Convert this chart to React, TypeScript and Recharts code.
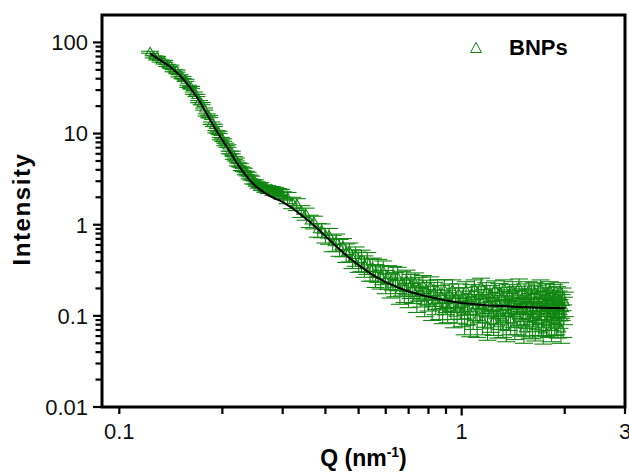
import { ScatterChart, Scatter, XAxis, YAxis, ErrorBar, Legend, Label, ReferenceArea } from "recharts";

const GREEN = "#118611";
const FONT = "'Liberation Sans', Arial, Helvetica, sans-serif";

// low-q part (Guinier region + shoulder)
const lowQ = [
  0.123, 0.126, 0.129, 0.132, 0.135, 0.138, 0.141, 0.144, 0.147, 0.15,
  0.153, 0.156, 0.159, 0.162, 0.165, 0.168, 0.171, 0.174, 0.177, 0.18,
  0.183, 0.186, 0.189, 0.192, 0.195, 0.198, 0.201, 0.204, 0.207, 0.21,
  0.213, 0.216, 0.219, 0.222, 0.225, 0.228, 0.231, 0.234, 0.237, 0.24,
  0.243, 0.246, 0.249, 0.252, 0.255, 0.258, 0.261, 0.264, 0.267, 0.27,
  0.273, 0.276, 0.279, 0.282, 0.285, 0.288, 0.291, 0.294, 0.297, 0.3,
];
const lowIntensity = [
  78, 69.5, 68.5, 62.5, 62, 56, 55, 49, 48.5, 43,
  41.3, 38.4, 33, 32, 27.8, 26.2, 22.4, 21.3, 18.6, 16,
  15.4, 13, 12.3, 10.5, 10.3, 8.8, 8.5, 7.6, 7.3, 6.2,
  6.2, 5.4, 5.2, 4.6, 4.5, 4.1, 4.0, 3.7, 3.6, 3.35,
  3.25, 2.95, 2.95, 2.8, 2.67, 2.73, 2.54, 2.55, 2.44, 2.5,
  2.37, 2.44, 2.42, 2.28, 2.37, 2.25, 2.29, 2.21, 2.24, 2.1,
];
const lowError = [
  2.0, 1.8, 1.8, 1.6, 1.6, 1.5, 1.4, 1.3, 1.3, 1.2,
  1.1, 1.0, 0.9, 0.9, 0.8, 0.7, 0.6, 0.6, 0.5, 0.45,
  0.45, 0.4, 0.36, 0.32, 0.31, 0.27, 0.26, 0.24, 0.23, 0.2,
  0.21, 0.19, 0.19, 0.18, 0.18, 0.17, 0.17, 0.16, 0.16, 0.16,
  0.16, 0.15, 0.16, 0.16, 0.15, 0.17, 0.16, 0.17, 0.17, 0.18,
  0.17, 0.19, 0.19, 0.18, 0.2, 0.19, 0.2, 0.2, 0.21, 0.2,
];

// mid-q part
const midQ = [
  0.31, 0.32, 0.33, 0.34, 0.35, 0.36, 0.37, 0.38, 0.39, 0.4,
  0.41, 0.42, 0.43, 0.44, 0.45, 0.46, 0.47, 0.48, 0.49, 0.5,
  0.51, 0.52, 0.53, 0.54, 0.55, 0.56, 0.57, 0.58, 0.59, 0.6,
  0.61, 0.62, 0.63, 0.64, 0.65, 0.66, 0.67, 0.68, 0.69, 0.7,
  0.71, 0.72, 0.73, 0.74, 0.75, 0.76, 0.77, 0.78, 0.79, 0.8,
  0.81, 0.82, 0.83, 0.84, 0.85, 0.86, 0.87, 0.88, 0.89, 0.9,
  0.91, 0.92, 0.93, 0.94, 0.95, 0.96, 0.97, 0.98, 0.99, 1.0,
];
const midIntensity = [
  1.98, 1.75, 1.68, 1.41, 1.32, 1.1, 1.07, 0.88, 0.87, 0.77,
  0.76, 0.635, 0.65, 0.57, 0.575, 0.5, 0.51, 0.43, 0.46, 0.4,
  0.415, 0.36, 0.39, 0.33, 0.335, 0.285, 0.325, 0.275, 0.31, 0.245,
  0.275, 0.222, 0.27, 0.23, 0.265, 0.19, 0.235, 0.2, 0.245, 0.175,
  0.22, 0.195, 0.23, 0.157, 0.205, 0.178, 0.215, 0.141, 0.19, 0.162,
  0.208, 0.127, 0.18, 0.148, 0.193, 0.13, 0.166, 0.117, 0.193, 0.147,
  0.12, 0.174, 0.13, 0.193, 0.107, 0.155, 0.119, 0.174, 0.131, 0.11,
];
const midError = [
  0.28, 0.25, 0.25, 0.21, 0.2, 0.17, 0.17, 0.15, 0.15, 0.14,
  0.15, 0.13, 0.14, 0.12, 0.13, 0.115, 0.12, 0.1, 0.11, 0.1,
  0.11, 0.095, 0.105, 0.09, 0.095, 0.08, 0.092, 0.078, 0.09, 0.07,
  0.08, 0.065, 0.078, 0.068, 0.076, 0.056, 0.07, 0.06, 0.072, 0.052,
  0.065, 0.058, 0.066, 0.048, 0.06, 0.053, 0.062, 0.043, 0.056, 0.049,
  0.06, 0.038, 0.053, 0.045, 0.056, 0.039, 0.05, 0.035, 0.056, 0.044,
  0.036, 0.05, 0.039, 0.055, 0.033, 0.046, 0.036, 0.05, 0.039, 0.034,
];

// high-q part (flat background)
const highQ = [
  1.01, 1.02, 1.03, 1.04, 1.05, 1.06, 1.07, 1.08, 1.09, 1.1,
  1.11, 1.12, 1.13, 1.14, 1.15, 1.16, 1.17, 1.18, 1.19, 1.2,
  1.21, 1.22, 1.23, 1.24, 1.25, 1.26, 1.27, 1.28, 1.29, 1.3,
  1.31, 1.32, 1.33, 1.34, 1.35, 1.36, 1.37, 1.38, 1.39, 1.4,
  1.41, 1.42, 1.43, 1.44, 1.45, 1.46, 1.47, 1.48, 1.49, 1.5,
  1.51, 1.52, 1.53, 1.54, 1.55, 1.56, 1.57, 1.58, 1.59, 1.6,
  1.61, 1.62, 1.63, 1.64, 1.65, 1.66, 1.67, 1.68, 1.69, 1.7,
  1.71, 1.72, 1.73, 1.74, 1.75, 1.76, 1.77, 1.78, 1.79, 1.8,
  1.81, 1.82, 1.83, 1.84, 1.85, 1.86, 1.87, 1.88, 1.89, 1.9,
  1.91, 1.92, 1.93, 1.94, 1.95, 1.96, 1.97, 1.98, 1.99, 2.0,
];
const highIntensity = [
  0.16, 0.1, 0.19, 0.12, 0.145, 0.085, 0.175, 0.11, 0.2, 0.13,
  0.095, 0.165, 0.125, 0.21, 0.09, 0.15, 0.115, 0.185, 0.078, 0.14,
  0.17, 0.105, 0.155, 0.088, 0.195, 0.12, 0.135, 0.082, 0.18, 0.11,
  0.16, 0.095, 0.2, 0.125, 0.075, 0.15, 0.108, 0.175, 0.09, 0.14,
  0.19, 0.115, 0.08, 0.165, 0.1, 0.145, 0.205, 0.118, 0.086, 0.155,
  0.128, 0.072, 0.178, 0.098, 0.15, 0.112, 0.19, 0.082, 0.135, 0.168,
  0.092, 0.12, 0.185, 0.076, 0.145, 0.105, 0.172, 0.088, 0.13, 0.2,
  0.098, 0.155, 0.07, 0.14, 0.115, 0.18, 0.085, 0.125, 0.162, 0.095,
  0.19, 0.108, 0.075, 0.148, 0.12, 0.175, 0.088, 0.138, 0.1, 0.165,
  0.082, 0.145, 0.112, 0.185, 0.072, 0.13, 0.158, 0.095, 0.12, 0.14,
];
const highError = [
  0.044, 0.038, 0.047, 0.04, 0.042, 0.026, 0.045, 0.039, 0.048, 0.041,
  0.037, 0.044, 0.041, 0.049, 0.028, 0.043, 0.04, 0.046, 0.024, 0.042,
  0.045, 0.039, 0.043, 0.027, 0.047, 0.04, 0.042, 0.025, 0.046, 0.039,
  0.044, 0.037, 0.048, 0.041, 0.023, 0.043, 0.039, 0.045, 0.028, 0.042,
  0.047, 0.04, 0.025, 0.044, 0.038, 0.042, 0.049, 0.04, 0.026, 0.043,
  0.041, 0.022, 0.046, 0.038, 0.043, 0.039, 0.047, 0.025, 0.041, 0.044,
  0.036, 0.04, 0.046, 0.023, 0.042, 0.038, 0.045, 0.027, 0.041, 0.048,
  0.038, 0.043, 0.021, 0.042, 0.04, 0.046, 0.026, 0.041, 0.044, 0.037,
  0.047, 0.039, 0.023, 0.043, 0.04, 0.045, 0.027, 0.042, 0.038, 0.044,
  0.025, 0.042, 0.039, 0.046, 0.022, 0.041, 0.044, 0.037, 0.04, 0.042,
];

// fitted curve
const fitQ = [
  0.123, 0.13, 0.14, 0.15, 0.16, 0.17, 0.18, 0.19, 0.2, 0.21, 0.22, 0.23,
  0.24, 0.25, 0.265, 0.28, 0.3, 0.32, 0.34, 0.36, 0.38, 0.4, 0.43, 0.46,
  0.5, 0.55, 0.6, 0.65, 0.7, 0.8, 0.9, 1.0, 1.2, 1.4, 1.7, 2.0,
];
const fitIntensity = [
  76, 66, 55, 44, 33, 24, 16.5, 11.5, 8.5, 6.4, 4.8, 3.8,
  3.1, 2.65, 2.25, 2.0, 1.78, 1.52, 1.28, 1.08, 0.9, 0.75, 0.58, 0.46,
  0.36, 0.28, 0.235, 0.205, 0.185, 0.162, 0.147, 0.138, 0.13, 0.126, 0.123, 0.121,
];

const xDomain = [0.089, 3];
const yDomain = [0.01, 200];
const xTicks = [0.1, 0.2, 0.3, 0.4, 0.5, 0.6, 0.7, 0.8, 0.9, 1, 2, 3];
const xTickLabels = [0.1, 1, 3];
const yTicks = [
  0.01, 0.02, 0.03, 0.04, 0.05, 0.06, 0.07, 0.08, 0.09,
  0.1, 0.2, 0.3, 0.4, 0.5, 0.6, 0.7, 0.8, 0.9,
  1, 2, 3, 4, 5, 6, 7, 8, 9,
  10, 20, 30, 40, 50, 60, 70, 80, 90, 100,
];
const yTickLabels = [0.01, 0.1, 1, 10, 100];

const allQ = [...lowQ, ...midQ, ...highQ];
const allIntensity = [...lowIntensity, ...midIntensity, ...highIntensity];
const allError = [...lowError, ...midError, ...highError];

const points = allQ.map((q, i) => ({ q, I: allIntensity[i], err: allError[i] }));
const fitData = fitQ.map((q, i) => ({ q, I: fitIntensity[i] }));

const X_MARGIN = 16; // gap between x axis and its tick labels
const Y_MARGIN = 14; // gap between y axis and its tick labels

function Triangle(props: any) {
  const { cx, cy } = props;
  if (cx == null || cy == null) return <g />;
  return (
    <path
      d={`M${cx},${cy - 5}L${cx + 4.5},${cy + 3}L${cx - 4.5},${cy + 3}Z`}
      fill="none"
      stroke={GREEN}
      strokeWidth={1.1}
    />
  );
}

// tick marks drawn here (pointing outward), labels only on the majors
function XTick({ x, y, payload }: any) {
  const axisY = y - X_MARGIN;
  const major = xTickLabels.includes(payload.value);
  return (
    <g>
      <rect x={x - 1.1} y={axisY} width={2.2} height={payload.value === 1 ? 8.5 : 7} fill="#000" />
      {major && (
        <text x={x} y={y} dy="0.72em" textAnchor="middle" fontSize={22} fill="#111" fontFamily={FONT}>
          {String(payload.value)}
        </text>
      )}
    </g>
  );
}

function YTick({ x, y, payload }: any) {
  const axisX = x + Y_MARGIN;
  const major = yTickLabels.includes(payload.value);
  const len = major ? 9 : 6.5;
  return (
    <g>
      <rect x={axisX - len} y={y - 1.1} width={len} height={2.2} fill="#000" />
      {major && (
        <text x={x} y={y} dy="0.36em" textAnchor="end" fontSize={22} fill="#111" fontFamily={FONT}>
          {String(payload.value)}
        </text>
      )}
    </g>
  );
}

function LegendBox() {
  return (
    <div style={{ display: "flex", alignItems: "center", height: 26 }}>
      <svg width={14} height={14}>
        <path d="M7,1.5L12.5,11.5L1.5,11.5Z" fill="none" stroke={GREEN} strokeWidth={1} />
      </svg>
      <span
        style={{
          marginLeft: 26,
          fontFamily: FONT,
          fontWeight: "bold",
          fontSize: 22,
          lineHeight: "26px",
          color: "#000",
        }}
      >
        BNPs
      </span>
    </div>
  );
}

export default function App() {
  return (
    <div style={{ position: "absolute", left: 0, top: 0, background: "#fff" }}>
      <ScatterChart width={629} height={474} margin={{ top: 15, right: 4, bottom: 0, left: 0 }}>
        <XAxis
          type="number"
          dataKey="q"
          scale="log"
          domain={xDomain}
          allowDataOverflow
          ticks={xTicks}
          interval={0}
          height={67}
          tickSize={0}
          tickMargin={X_MARGIN}
          axisLine={false}
          tickLine={false}
          tick={<XTick />}
        >
          <Label
            content={({ viewBox }: any) => (
              <text
                x={viewBox.x + viewBox.width / 2}
                y={viewBox.y + 59}
                textAnchor="middle"
                fontFamily={FONT}
                fontWeight="bold"
                fontSize={23}
                fill="#000"
              >
                Q (nm
                <tspan dy={-9} fontSize={14}>-1</tspan>
                <tspan dy={9}>)</tspan>
              </text>
            )}
          />
        </XAxis>
        <YAxis
          type="number"
          dataKey="I"
          scale="log"
          domain={yDomain}
          allowDataOverflow
          ticks={yTicks}
          interval={0}
          width={102}
          tickSize={0}
          tickMargin={Y_MARGIN}
          axisLine={false}
          tickLine={false}
          tick={<YTick />}
        >
          <Label
            content={() => {
              const cx = 30;
              const cy = 209;
              return (
                <text
                  x={cx}
                  y={cy}
                  transform={`rotate(-90, ${cx}, ${cy})`}
                  textAnchor="middle"
                  fontFamily={FONT}
                  fontWeight="bold"
                  fontSize={24}
                  letterSpacing={1.6}
                  fill="#000"
                >
                  Intensity
                </text>
              );
            }}
          />
        </YAxis>
        <Legend
          layout="horizontal"
          verticalAlign="middle"
          align="center"
          wrapperStyle={{ top: 35, left: 469, width: 150 }}
          content={() => <LegendBox />}
        />
        <Scatter name="BNPs" data={points} shape={<Triangle />} isAnimationActive={false}>
          <ErrorBar
            dataKey="err"
            direction="y"
            width={9}
            stroke={GREEN}
            strokeWidth={1.1}
            isAnimationActive={false}
          />
        </Scatter>
        <Scatter
          name="Fit"
          data={fitData}
          line={{ stroke: "#000", strokeWidth: 2 }}
          lineType="joint"
          shape={() => <g />}
          isAnimationActive={false}
          legendType="none"
        />
        {/* plot frame */}
        <ReferenceArea
          x1={xDomain[0]}
          x2={xDomain[1]}
          y1={yDomain[0]}
          y2={yDomain[1]}
          fill="none"
          fillOpacity={0}
          stroke="#000"
          strokeWidth={3}
          ifOverflow="visible"
        />
      </ScatterChart>
    </div>
  );
}
